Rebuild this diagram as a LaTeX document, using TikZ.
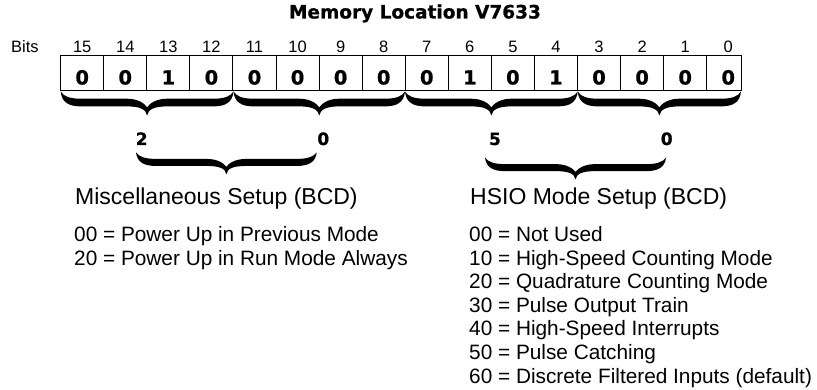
\documentclass[tikz,border=0pt]{standalone}
\usepackage{fontspec}
\setmainfont{Liberation Sans}
\newfontfamily\blackfont[FakeBold=0.8]{DejaVu Sans Bold}
\newcommand{\bracefill}[4]{%
 \pgfmathsetmacro\brL{#1}%
 \pgfmathsetmacro\brR{#2}%
 \pgfmathsetmacro\brM{(#1+#2)/2}%
 \pgfmathsetmacro\brT{#3}%
 \pgfmathsetmacro\brH{#4}%
 \pgfmathsetmacro\brYT{#3+0.30*#4}%
 \pgfmathsetmacro\brYB{#3+0.62*#4}%
 \pgfmathsetmacro\brYN{#3+0.66*#4}%
 \pgfmathsetmacro\brYP{#3+#4}%
 \fill (\brL,\brT) .. controls (\brL+1,\brT+0.45*\brH) and (\brL+8,\brYB) .. (\brL+20,\brYB)
   -- (\brM-20,\brYB) .. controls (\brM-7,\brYB) and (\brM-1,\brYP-6) .. (\brM,\brYP)
   .. controls (\brM+1,\brYP-6) and (\brM+7,\brYB) .. (\brM+20,\brYB)
   -- (\brR-20,\brYB) .. controls (\brR-8,\brYB) and (\brR-1,\brT+0.45*\brH) .. (\brR,\brT)
   .. controls (\brR-3,\brT+0.22*\brH) and (\brR-10,\brYT) .. (\brR-20,\brYT)
   -- (\brM+20,\brYT) .. controls (\brM+8,\brYT) and (\brM+2,\brYN-3) .. (\brM,\brYN)
   .. controls (\brM-2,\brYN-3) and (\brM-8,\brYT) .. (\brM-20,\brYT)
   -- (\brL+20,\brYT) .. controls (\brL+10,\brYT) and (\brL+3,\brT+0.22*\brH) .. cycle;
}
\begin{document}
\begin{tikzpicture}[x=1pt,y=-1pt,
  titletext/.style={inner sep=0, anchor=base, font=\blackfont\fontsize{18.5}{21}\selectfont},
  bitnum/.style={inner sep=0, anchor=base, font=\fontsize{16.5}{19}\selectfont},
  bitval/.style={inner sep=0, anchor=base, font=\blackfont\fontsize{19.5}{22}\selectfont},
  digit/.style={inner sep=0, anchor=base, font=\blackfont\fontsize{17}{19}\selectfont},
  head/.style={inner sep=0, anchor=base west, font=\fontsize{23}{27}\selectfont},
  item/.style={inner sep=0, anchor=base west, font=\fontsize{20.8}{24}\selectfont},
  cellline/.style={line width=1pt}
]
\fill[white] (0,0) rectangle (817,390);
\useasboundingbox (0,0) rectangle (817,390);

\node[titletext] (title) at (415,18.5) {Memory Location V7633};
\node[bitnum, anchor=base west] (bits) at (11,53) {Bits};

\draw[cellline] (60.7,56) rectangle (741,90.7);
\foreach \i in {1,...,15} \draw[cellline] ({60.7+43.07*\i},56) -- ++(0,34.7);

\foreach \v [count=\i from 0] in {0,0,1,0,0,0,0,0,0,1,0,1,0,0,0,0} {
  \pgfmathsetmacro\xc{60.7+43.07*\i+21.5}
  \pgfmathtruncatemacro\bn{15-\i}
  \node[bitval] (v\i) at (\xc,84.5) {\v};
  \node[bitnum] (n\i) at (\xc,53) {\bn};
}

\bracefill{60.7}{233.5}{91.5}{24}
\bracefill{233.5}{405}{91.5}{24}
\bracefill{405}{577.7}{91.5}{24}
\bracefill{577.7}{741}{91.5}{24}

\node[digit] (d2) at (141.7,145) {2};
\node[digit] (d0a) at (323.3,145) {0};
\node[digit] (d5) at (495,145) {5};
\node[digit] (d0b) at (666.7,145) {0};

\bracefill{136}{316.7}{152.3}{22}
\bracefill{485}{666}{157.5}{22}

\node[head] (misc) at (75,205) {Miscellaneous Setup (BCD)};
\node[item] (m0) at (74,241.5) {00 = Power Up in Previous Mode};
\node[item] (m1) at (74,265.1) {20 = Power Up in Run Mode Always};

\node[head] (hsio) at (470,205) {HSIO Mode Setup (BCD)};
\node[item] (h0) at (469,241.5) {00 = Not Used};
\node[item] (h1) at (469,265.1) {10 = High-Speed Counting Mode};
\node[item] (h2) at (469,288.7) {20 = Quadrature Counting Mode};
\node[item] (h3) at (469,312.3) {30 = Pulse Output Train};
\node[item] (h4) at (469,335.9) {40 = High-Speed Interrupts};
\node[item] (h5) at (469,359.5) {50 = Pulse Catching};
\node[item] (h6) at (469,383.1) {60 = Discrete Filtered Inputs (default)};
\end{tikzpicture}
\end{document}
